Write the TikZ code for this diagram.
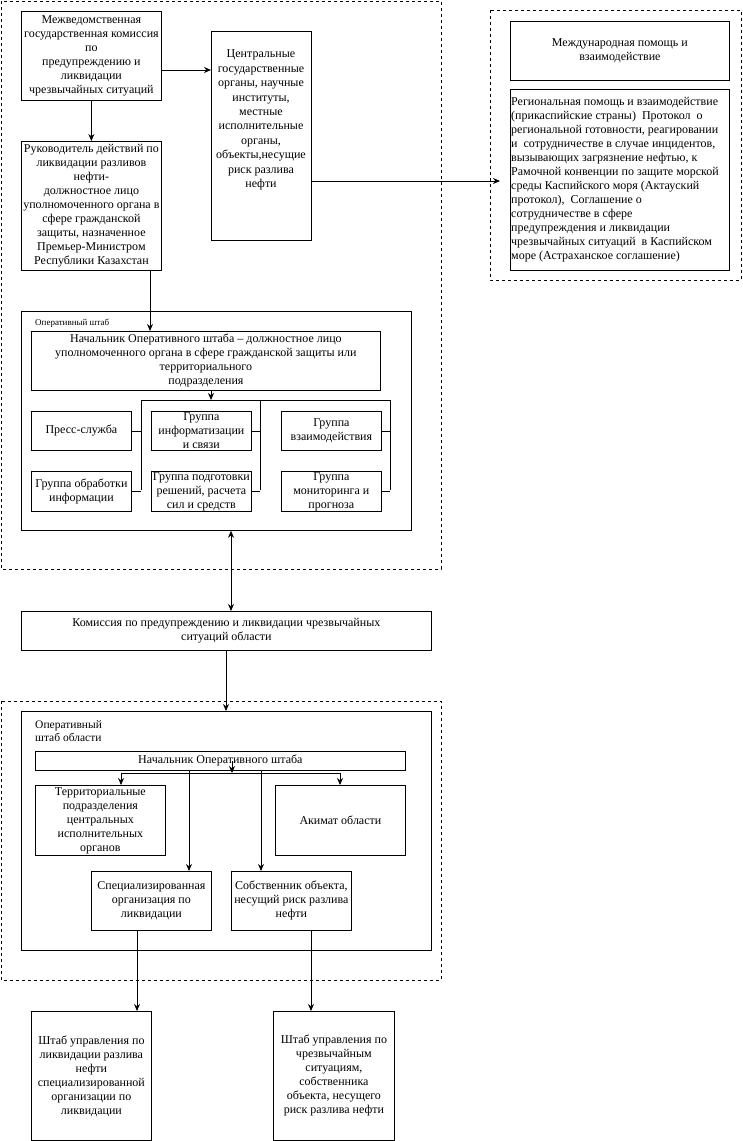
\documentclass[tikz,border=0pt]{standalone}
\usepackage{fontspec}
\setmainfont{Liberation Serif}
\usetikzlibrary{arrows.meta,calc}
\newcommand\fs{\fontsize{12}{14}\selectfont}
\tikzset{
  box/.style={draw, line width=0.8pt, anchor=north west, inner sep=0pt, align=center, font=\fs},
  dbox/.style={draw, dash pattern=on 3pt off 3pt, line width=0.8pt},
  arr/.style={-{Stealth[length=7pt,width=6pt]}, line width=0.8pt},
  darr/.style={{Stealth[length=7pt,width=6pt]}-{Stealth[length=7pt,width=6pt]}, line width=0.8pt},
  ln/.style={line width=0.8pt},
  txt/.style={inner sep=0pt, align=center, font=\fs}
}
\begin{document}
\begin{tikzpicture}[x=1pt,y=-1pt]
\useasboundingbox (0,0) rectangle (742,1141);
% dashed groups
\draw[dbox] (1,1) rectangle (441,569);
\draw[dbox] (490,10) rectangle (741,280);
\draw[dbox] (1,701) rectangle (441,980);

% top part
\node[box, minimum width=140pt, minimum height=89pt] (A) at (21,11)
  {Межведомственная\\государственная комиссия\\по\\предупреждению и\\ликвидации\\чрезвычайных ситуаций};
\node[box, minimum width=140pt, minimum height=129pt] (B) at (21,141)
  {Руководитель действий по\\ликвидации разливов\\нефти-\\должностное лицо\\уполномоченного органа в\\сфере гражданской\\защиты, назначенное\\Премьер-Министром\\Республики Казахстан};
\node[box, minimum width=100pt, minimum height=209pt] (C) at (211,31) {};
\node[txt, font=\fontsize{12}{14.4}\selectfont] (Ct) at (261,120)
  {Центральные\\государственные\\органы, научные\\институты,\\местные\\исполнительные\\органы,\\объекты,несущие\\риск разлива\\нефти};
\node[box, minimum width=219pt, minimum height=59pt] (Intl) at (510,21)
  {Международная помощь и\\взаимодействие};
\node[box, minimum width=219pt, minimum height=181pt] (Reg) at (510,89) {};
\node[txt, anchor=west, align=left] (Regt) at (511,180)
  {Региональная помощь и взаимодействие\\(прикаспийские страны)\ \ Протокол\ \ о\\региональной готовности, реагировании\\и\ \ сотрудничестве в случае инцидентов,\\вызывающих загрязнение нефтью, к\\Рамочной конвенции по защите морской\\среды Каспийского моря (Актауский\\протокол),\ \ Соглашение о\\сотрудничестве в сфере\\предупреждения и ликвидации\\чрезвычайных ситуаций\ \ в Каспийском\\море (Астраханское соглашение)};

% operational staff
\node[box, minimum width=390pt, minimum height=219pt] (Op) at (21,311) {};
\node[anchor=west, inner sep=0pt, font=\fontsize{9}{10}\selectfont] (OpL) at (35,323) {Оперативный штаб};
\node[box, minimum width=349pt, minimum height=59pt] (Nach) at (31,331)
  {Начальник Оперативного штаба – должностное лицо\\уполномоченного органа в сфере гражданской защиты или\\территориального\\подразделения};
\node[box, minimum width=100pt, minimum height=39pt] (Press) at (31,411) {Пресс-служба};
\node[box, minimum width=100pt, minimum height=40pt] (Obr) at (31,471) {Группа обработки\\информации};
\node[box, minimum width=100pt, minimum height=39pt] (Inf) at (151,411) {Группа\\информатизации\\и связи};
\node[box, minimum width=100pt, minimum height=40pt] (Podg) at (151,471) {Группа подготовки\\решений, расчета\\сил и средств};
\node[box, minimum width=100pt, minimum height=39pt] (Vz) at (281,411) {Группа\\взаимодействия};
\node[box, minimum width=100pt, minimum height=40pt] (Mon) at (281,471) {Группа\\мониторинга и\\прогноза};

% region
\node[box, minimum width=410pt, minimum height=39pt] (Kom) at (21,611)
  {Комиссия по предупреждению и ликвидации чрезвычайных\\ситуаций области};
\node[box, minimum width=410pt, minimum height=239pt] (OpO) at (21,711) {};
\node[anchor=west, inner sep=0pt, align=left, font=\fontsize{11.5}{12.5}\selectfont] (OpOL) at (35,731) {Оперативный\\штаб области};
\node[box, minimum width=370pt, minimum height=19pt] (NachO) at (35,751) {Начальник Оперативного штаба};
\node[box, minimum width=130pt, minimum height=70pt] (Terr) at (35,785)
  {Территориальные\\подразделения\\центральных\\исполнительных\\органов};
\node[box, minimum width=130pt, minimum height=70pt] (Akim) at (275,785) {Акимат области};
\node[box, minimum width=120pt, minimum height=59pt] (Spec) at (91,871)
  {Специализированная\\организация по\\ликвидации};
\node[box, minimum width=120pt, minimum height=59pt] (Sobs) at (231,871)
  {Собственник объекта,\\несущий риск разлива\\нефти};
\node[box, minimum width=120pt, minimum height=129pt] (Sh1) at (31,1011)
  {Штаб управления по\\ликвидации разлива\\нефти\\специализированной\\организации по\\ликвидации};
\node[box, minimum width=121pt, minimum height=129pt] (Sh2) at (273,1011)
  {Штаб управления по\\чрезвычайным\\ситуациям,\\собственника\\объекта, несущего\\риск разлива нефти};

% helper coordinates
\coordinate (y70) at (0,70);
\coordinate (y181) at (0,181);
\coordinate (x150) at (150,0);
\coordinate (x211) at (211,0);
\coordinate (x231) at (231,0);
\coordinate (x226) at (226,0);
\coordinate (x232) at (232,0);
\coordinate (x189) at (189,0);
\coordinate (x261) at (261,0);
\coordinate (x137) at (137,0);
\coordinate (x311) at (311,0);
\coordinate (iend) at (500,181);
\coordinate (busL) at (141,400);
\coordinate (busM) at (260,400);
\coordinate (busR) at (390,400);
\coordinate (busLb) at (141,490);
\coordinate (busMb) at (260,490);
\coordinate (busRb) at (390,490);
\coordinate (bus2L) at (121,773);
\coordinate (bus2R) at (340,773);
\coordinate (bus2M) at (232,773);

% connectors top
\draw[arr] (A) -- (B);
\draw[arr] (A.east |- y70) -- (C.west |- y70);
\draw[arr] (C.east |- y181) -- (iend);
\draw[arr] (B.south -| x150) -- (Nach.north -| x150);

% operational staff bus
\draw[arr] (Nach.south -| x211) -- (x211 |- busL);
\draw[ln] (busL) -- (busR);
\draw[ln] (busL) -- (busLb);
\draw[ln] (busM) -- (busMb);
\draw[ln] (busR) -- (busRb);
\draw[ln] (Press.east) -- (Press.east -| busL);
\draw[ln] (Obr.east) -- (Obr.east -| busL);
\draw[ln] (Inf.east) -- (Inf.east -| busM);
\draw[ln] (Podg.east) -- (Podg.east -| busM);
\draw[ln] (Vz.east) -- (Vz.east -| busR);
\draw[ln] (Mon.east) -- (Mon.east -| busR);

% middle
\draw[darr] (Op.south -| x231) -- (Kom.north -| x231);
\draw[arr] (Kom.south -| x226) -- (OpO.north -| x226);

% region staff
\draw[arr] (NachO.center -| x232) -- (bus2M);
\draw[ln] (bus2L) -- (bus2R);
\draw[arr] (bus2L) -- (Terr.north -| bus2L);
\draw[arr] (bus2R) -- (Akim.north -| bus2R);
\draw[arr] (NachO.south -| x189) -- (Spec.north -| x189);
\draw[arr] (NachO.south -| x261) -- (Sobs.north -| x261);
\draw[arr] (Spec.south -| x137) -- (Sh1.north -| x137);
\draw[arr] (Sobs.south -| x311) -- (Sh2.north -| x311);
\end{tikzpicture}
\end{document}
